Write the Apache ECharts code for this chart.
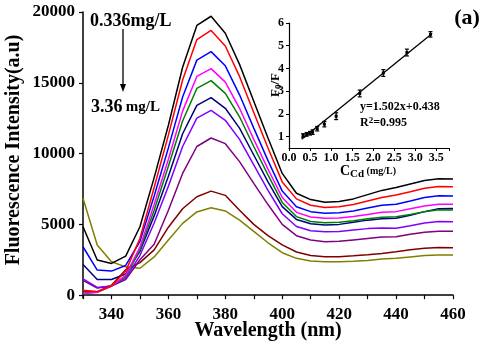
<!DOCTYPE html>
<html>
<head>
<meta charset="utf-8">
<script src="https://cdn.jsdelivr.net/npm/echarts@6/dist/echarts.min.js"></script>
<style>
  html, body { margin: 0; padding: 0; background: #fff; }
  #chart { width: 482px; height: 347px; }
</style>
</head>
<body>
<div id="chart"></div>
<script>
// emission spectra, 330-460 nm every 5 nm
const wavelengths = [330, 335, 340, 345, 350, 355, 360, 365, 370, 375, 380, 385, 390, 395, 400,
                     405, 410, 415, 420, 425, 430, 435, 440, 445, 450, 455, 460];
const lineColors = ['#000000', '#ff0000', '#0000ff', '#ff00ff', '#008000', '#000080', '#8000ff', '#800080', '#800000', '#808000'];
const sBlack   = [4830, 2480, 2240, 2760, 4830, 8300, 12000, 16100, 19050, 19700, 18500, 16300, 13700, 11100, 8600, 7200, 6750, 6560, 6620, 6800, 7100, 7400, 7600, 7850, 8100, 8230, 8200];
const sRed     = [350, 250, 650, 1700, 4000, 7600, 11300, 15200, 18050, 18700, 17600, 15450, 12900, 10400, 8000, 6800, 6350, 6200, 6250, 6400, 6650, 6900, 7080, 7300, 7550, 7680, 7660];
const sBlue    = [3420, 1770, 1700, 2100, 3800, 7000, 10400, 14000, 16600, 17200, 16200, 14150, 11800, 9500, 7350, 6250, 5900, 5780, 5820, 5950, 6150, 6350, 6420, 6650, 6900, 7020, 7010];
const sMagenta = [100, 200, 650, 1400, 3400, 6400, 9600, 13000, 15450, 16000, 15050, 13200, 11000, 8900, 6900, 5850, 5520, 5430, 5450, 5550, 5700, 5850, 5900, 6100, 6300, 6420, 6420];
const sGreen   = [150, 200, 650, 1300, 3200, 6000, 9100, 12300, 14600, 15150, 14250, 12600, 10500, 8500, 6550, 5550, 5200, 5120, 5150, 5250, 5400, 5500, 5540, 5700, 5900, 6030, 6020];
const sNavy    = [2170, 1110, 1110, 1500, 3100, 5600, 8400, 11400, 13400, 13950, 13200, 11800, 9900, 8000, 6250, 5350, 5050, 4950, 5000, 5150, 5300, 5400, 5430, 5650, 5900, 6100, 6130];
const sViolet  = [1150, 550, 650, 1200, 2800, 5100, 7700, 10500, 12500, 13050, 12350, 11000, 9200, 7400, 5750, 4850, 4550, 4480, 4500, 4600, 4700, 4750, 4720, 4900, 5100, 5200, 5190];
const sPurple  = [1050, 500, 650, 1100, 2500, 3600, 6000, 8600, 10500, 11100, 10700, 9430, 7900, 6400, 5000, 4200, 3900, 3770, 3800, 3900, 4000, 4100, 4130, 4300, 4450, 4520, 4510];
const sDarkred = [300, 250, 700, 1800, 2300, 3200, 4800, 6100, 6950, 7350, 7050, 6000, 5000, 4200, 3550, 3050, 2800, 2710, 2720, 2780, 2850, 2950, 3060, 3200, 3320, 3360, 3350];
const sOlive   = [6840, 3540, 2360, 2000, 1900, 2700, 3900, 5070, 5880, 6180, 5950, 5300, 4500, 3700, 3000, 2600, 2420, 2360, 2360, 2400, 2450, 2550, 2600, 2700, 2800, 2830, 2830];
const spectra = [sBlack, sRed, sBlue, sMagenta, sGreen, sNavy, sViolet, sPurple, sDarkred, sOlive];

const yTicks = [0, 5000, 10000, 15000, 20000];

// inset: F0/F vs Cd concentration
const cdConc = [0.336, 0.42, 0.5, 0.56, 0.67, 0.84, 1.12, 1.68, 2.24, 2.8, 3.36];
const ratio  = [1.05, 1.1, 1.15, 1.2, 1.35, 1.55, 1.9, 2.9, 3.8, 4.7, 5.5];
const ratioErr = [0.08, 0.08, 0.08, 0.1, 0.1, 0.12, 0.15, 0.15, 0.15, 0.15, 0.12];
const fitX = [0.3, 3.4];
const fitY = [0.89, 5.54];
const insetYTicks = [1, 2, 3, 4, 5, 6];

const FONT = 'Liberation Serif';
const chart = echarts.init(document.getElementById('chart'));

let series = spectra.map(function (vals, i) {
    return {
        type: 'line',
        xAxisIndex: 0,
        yAxisIndex: 0,
        data: wavelengths.map(function (w, k) { return [w, vals[k]]; }),
        showSymbol: false,
        smooth: false,
        lineStyle: { color: lineColors[i], width: 1.5 },
        z: 10 - i
    };
});

series.push({
    type: 'line',
    xAxisIndex: 1,
    yAxisIndex: 1,
    data: fitX.map(function (x, k) { return [x, fitY[k]]; }),
    showSymbol: false,
    lineStyle: { color: '#000', width: 1.3 }
});
series.push({
    type: 'custom',
    xAxisIndex: 1,
    yAxisIndex: 1,
    data: cdConc.map(function (x, k) { return [x, ratio[k], ratioErr[k]]; }),
    renderItem: function (params, api) {
        const x = api.value(0), y = api.value(1), e = api.value(2);
        const top = api.coord([x, y + e]);
        const bot = api.coord([x, y - e]);
        const mid = api.coord([x, y]);
        const st = { stroke: '#000', lineWidth: 1.2 };
        return {
            type: 'group',
            children: [
                { type: 'line', shape: { x1: top[0], y1: top[1], x2: bot[0], y2: bot[1] }, style: st },
                { type: 'line', shape: { x1: top[0] - 2, y1: top[1], x2: top[0] + 2, y2: top[1] }, style: st },
                { type: 'line', shape: { x1: bot[0] - 2, y1: bot[1], x2: bot[0] + 2, y2: bot[1] }, style: st },
                { type: 'rect', shape: { x: mid[0] - 1.5, y: mid[1] - 1.5, width: 3, height: 3 }, style: { fill: '#000' } }
            ]
        };
    }
});

const axisLineStyle = { lineStyle: { color: '#000', width: 1.5 } };

chart.setOption({
    animation: false,
    backgroundColor: '#fff',
    grid: [
        { left: 83, top: 12, right: 29, bottom: 49 },
        { left: 289, top: 23, right: 33, bottom: 199, containLabel: false }
    ],
    xAxis: [
        {
            gridIndex: 0, type: 'value', min: 330, max: 460, interval: 10, position: 'bottom',
            axisLine: axisLineStyle,
            axisTick: { length: 4, lineStyle: { color: '#000', width: 1.2 } },
            axisLabel: {
                color: '#000', fontFamily: FONT, fontWeight: 'bold', fontSize: 17, margin: 8,
                formatter: function (v) { return v % 20 === 0 ? String(v) : ''; }
            },
            splitLine: { show: false }
        },
        {
            gridIndex: 1, type: 'value', min: 0, max: 3.8, interval: 0.5, position: 'bottom',
            axisLine: { onZero: false, lineStyle: { color: '#000', width: 1.2 } },
            axisTick: { length: 3, lineStyle: { color: '#000' } },
            axisLabel: {
                show: true, hideOverlap: false, color: '#000', fontFamily: FONT, fontWeight: 'bold', fontSize: 12, margin: 4,
                formatter: function (v) { return v <= 3.5 ? Number(v).toFixed(1) : ''; }
            },
            splitLine: { show: false }
        }
    ],
    yAxis: [
        {
            gridIndex: 0, type: 'value', min: -200, max: 20000,
            axisLine: { show: true, lineStyle: { color: '#000', width: 1.5 } },
            axisTick: { show: true, length: 4, customValues: yTicks, lineStyle: { color: '#000', width: 1.2 } },
            axisLabel: {
                customValues: yTicks, color: '#000', fontFamily: FONT, fontWeight: 'bold', fontSize: 17, margin: 8,
                formatter: function (v) { return String(v); }
            },
            splitLine: { show: false }
        },
        {
            gridIndex: 1, type: 'value', min: 0.5, max: 6,
            axisLine: { show: true, onZero: false, lineStyle: { color: '#000', width: 1.2 } },
            axisTick: { show: true, length: 3, customValues: insetYTicks, lineStyle: { color: '#000' } },
            axisLabel: {
                customValues: insetYTicks, color: '#000', fontFamily: FONT, fontWeight: 'bold', fontSize: 12, margin: 5,
                formatter: function (v) { return String(v); }
            },
            splitLine: { show: false }
        }
    ],
    series: series,
    graphic: [
        {
            type: 'text', x: 14, y: 150, rotation: Math.PI / 2,
            style: { text: 'Fluorescence Intensity(a.u)', fill: '#000', font: 'bold 20px "Liberation Serif"', align: 'center', verticalAlign: 'middle' }
        },
        {
            type: 'text', x: 268, y: 331,
            style: { text: 'Wavelength (nm)', fill: '#000', font: 'bold 20px "Liberation Serif"', align: 'center', verticalAlign: 'middle' }
        },
        {
            type: 'text', x: 90, y: 21,
            style: { text: '0.336mg/L', fill: '#000', font: 'bold 18px "Liberation Serif"', align: 'left', verticalAlign: 'middle' }
        },
        {
            type: 'text', x: 91, y: 107,
            style: {
                text: '{a|3.36} {b|mg/L}', align: 'left', verticalAlign: 'middle',
                rich: {
                    a: { fill: '#000', font: 'bold 18px "Liberation Serif"' },
                    b: { fill: '#000', font: 'bold 15px "Liberation Serif"' }
                }
            }
        },
        {
            type: 'line', shape: { x1: 123, y1: 29, x2: 123, y2: 86 },
            style: { stroke: '#000', lineWidth: 1.3 }
        },
        {
            type: 'polygon', shape: { points: [[120, 84], [126, 84], [123, 92]] },
            style: { fill: '#000' }
        },
        {
            type: 'text', x: 467, y: 18,
            style: { text: '(a)', fill: '#000', font: 'bold 22px "Liberation Serif"', align: 'center', verticalAlign: 'middle' }
        },
        {
            type: 'text', x: 360, y: 107,
            style: { text: 'y=1.502x+0.438', fill: '#000', font: 'bold 12px "Liberation Serif"', align: 'left', verticalAlign: 'middle' }
        },
        {
            type: 'text', x: 360, y: 123,
            style: {
                text: '{n|R}{s|2}{n|=0.995}', align: 'left', verticalAlign: 'middle',
                rich: {
                    n: { fill: '#000', font: 'bold 12px "Liberation Serif"' },
                    s: { fill: '#000', font: 'bold 9px "Liberation Serif"', verticalAlign: 'top', padding: [0, 0, 5, 0] }
                }
            }
        },
        {
            type: 'text', x: 276, y: 85, rotation: Math.PI / 2,
            style: {
                text: '{n|F}{s|0}{n|/F}', align: 'center', verticalAlign: 'middle',
                rich: {
                    n: { fill: '#000', font: 'bold 13px "Liberation Serif"' },
                    s: { fill: '#000', font: 'bold 9px "Liberation Serif"', padding: [5, 0, 0, 0] }
                }
            }
        },
        {
            type: 'text', x: 368, y: 171,
            style: {
                text: '{n|C}{s|Cd}{m| (mg/L)}', align: 'center', verticalAlign: 'middle',
                rich: {
                    n: { fill: '#000', font: 'bold 14px "Liberation Serif"' },
                    s: { fill: '#000', font: 'bold 11px "Liberation Serif"', padding: [6, 0, 0, 0] },
                    m: { fill: '#000', font: 'bold 10px "Liberation Serif"' }
                }
            }
        }
    ]
});
</script>
</body>
</html>
